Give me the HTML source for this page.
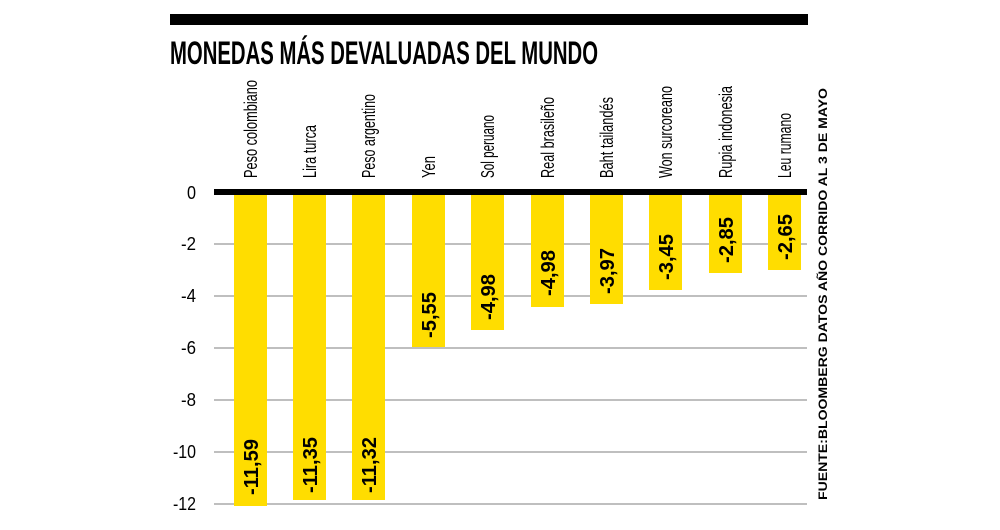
<!DOCTYPE html>
<html><head><meta charset="utf-8"><style>body{margin:0;background:#fff}svg{display:block}</style></head>
<body>
<svg width="1000" height="530" xmlns="http://www.w3.org/2000/svg" font-family="Liberation Sans, sans-serif">
<rect x="170" y="14" width="638" height="11" fill="#000"/>
<text x="170" y="64" font-size="32" font-weight="bold" textLength="428" lengthAdjust="spacingAndGlyphs">MONEDAS MÁS DEVALUADAS DEL MUNDO</text>
<g stroke="#aaa" stroke-width="1.5">
<line x1="214" x2="807" y1="244" y2="244"/><line x1="214" x2="807" y1="296" y2="296"/>
<line x1="214" x2="807" y1="348" y2="348"/><line x1="214" x2="807" y1="400" y2="400"/>
<line x1="214" x2="807" y1="452" y2="452"/><line x1="214" x2="807" y1="504" y2="504"/>
</g>
<g fill="#ffdd00">
<rect x="234" y="194" width="33" height="312"/><rect x="293" y="194" width="33" height="306"/>
<rect x="352" y="194" width="33" height="306"/><rect x="412" y="194" width="33" height="153"/>
<rect x="471" y="194" width="33" height="136"/><rect x="531" y="194" width="33" height="113"/>
<rect x="590" y="194" width="33" height="110"/><rect x="649" y="194" width="33" height="96"/>
<rect x="709" y="194" width="33" height="79"/><rect x="768" y="194" width="33" height="76"/>
</g>
<rect x="214" y="189" width="593" height="6" fill="#000"/>
<g font-size="18" text-anchor="end" fill="#000">
<text x="196" y="199" textLength="9" lengthAdjust="spacingAndGlyphs">0</text><text x="196" y="250" textLength="15" lengthAdjust="spacingAndGlyphs">-2</text><text x="196" y="302" textLength="15" lengthAdjust="spacingAndGlyphs">-4</text>
<text x="196" y="354" textLength="15" lengthAdjust="spacingAndGlyphs">-6</text><text x="196" y="406" textLength="15" lengthAdjust="spacingAndGlyphs">-8</text><text x="196" y="458" textLength="23" lengthAdjust="spacingAndGlyphs">-10</text><text x="196" y="510" textLength="23" lengthAdjust="spacingAndGlyphs">-12</text>
</g>
<g font-size="18" fill="#000">
<text transform="translate(257,178) rotate(-90)" textLength="98" lengthAdjust="spacingAndGlyphs">Peso colombiano</text>
<text transform="translate(316,178) rotate(-90)" textLength="53" lengthAdjust="spacingAndGlyphs">Lira turca</text>
<text transform="translate(375,178) rotate(-90)" textLength="84" lengthAdjust="spacingAndGlyphs">Peso argentino</text>
<text transform="translate(435,178) rotate(-90)" textLength="22" lengthAdjust="spacingAndGlyphs">Yen</text>
<text transform="translate(494,178) rotate(-90)" textLength="63" lengthAdjust="spacingAndGlyphs">Sol peruano</text>
<text transform="translate(554,178) rotate(-90)" textLength="81" lengthAdjust="spacingAndGlyphs">Real brasileño</text>
<text transform="translate(613,178) rotate(-90)" textLength="81" lengthAdjust="spacingAndGlyphs">Baht tailandés</text>
<text transform="translate(672,178) rotate(-90)" textLength="92" lengthAdjust="spacingAndGlyphs">Won surcoreano</text>
<text transform="translate(732,178) rotate(-90)" textLength="92" lengthAdjust="spacingAndGlyphs">Rupia indonesia</text>
<text transform="translate(791,178) rotate(-90)" textLength="65" lengthAdjust="spacingAndGlyphs">Leu rumano</text>
</g>
<g font-size="20" font-weight="bold" fill="#000">
<text transform="translate(258,495) rotate(-90)" textLength="56" lengthAdjust="spacingAndGlyphs">-11,59</text>
<text transform="translate(317,493) rotate(-90)" textLength="56" lengthAdjust="spacingAndGlyphs">-11,35</text>
<text transform="translate(376,493) rotate(-90)" textLength="56" lengthAdjust="spacingAndGlyphs">-11,32</text>
<text transform="translate(436,338) rotate(-90)" textLength="46" lengthAdjust="spacingAndGlyphs">-5,55</text>
<text transform="translate(495,320) rotate(-90)" textLength="46" lengthAdjust="spacingAndGlyphs">-4,98</text>
<text transform="translate(555,296) rotate(-90)" textLength="46" lengthAdjust="spacingAndGlyphs">-4,98</text>
<text transform="translate(614,294) rotate(-90)" textLength="46" lengthAdjust="spacingAndGlyphs">-3,97</text>
<text transform="translate(673,280) rotate(-90)" textLength="46" lengthAdjust="spacingAndGlyphs">-3,45</text>
<text transform="translate(733,263) rotate(-90)" textLength="46" lengthAdjust="spacingAndGlyphs">-2,85</text>
<text transform="translate(792,260) rotate(-90)" textLength="46" lengthAdjust="spacingAndGlyphs">-2,65</text>
</g>
<text transform="translate(827,500) rotate(-90)" font-size="12" font-weight="bold" textLength="412" lengthAdjust="spacingAndGlyphs">FUENTE:BLOOMBERG DATOS AÑO CORRIDO AL 3 DE MAYO</text>
</svg>
</body></html>
